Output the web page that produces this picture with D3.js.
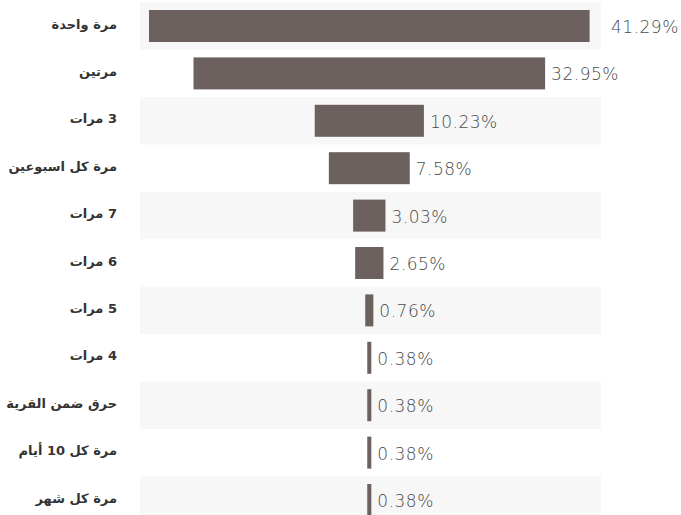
<!DOCTYPE html>
<html>
<head>
<meta charset="utf-8">
<script src="https://cdn.jsdelivr.net/npm/d3@7/dist/d3.min.js"></script>
<style>
  html, body { margin: 0; padding: 0; background: #fff; }
  svg { display: block; }
</style>
</head>
<body>
<svg id="chart" width="681" height="515"></svg>
<script>
// Frequency categories and their shares (%)
const categories = [
  "مرة واحدة",
  "مرتين",
  "3 مرات",
  "مرة كل اسبوعين",
  "7 مرات",
  "6 مرات",
  "5 مرات",
  "4 مرات",
  "حرق ضمن القرية",
  "مرة كل 10 أيام",
  "مرة كل شهر"
];
const values = [41.29, 32.95, 10.23, 7.58, 3.03, 2.65, 0.76, 0.38, 0.38, 0.38, 0.38];
const valueLabels = ["41.29%", "32.95%", "10.23%", "7.58%", "3.03%", "2.65%", "0.76%", "0.38%", "0.38%", "0.38%", "0.38%"];

const svg = d3.select("#chart");
const plotLeft = 140, plotRight = 601;
const plotTop = 2.3, rowStep = 47.4;
const centerX = 369.3;

const y = d3.scaleBand()
  .domain(categories)
  .range([plotTop, plotTop + rowStep * categories.length])
  .paddingInner(0)
  .paddingOuter(0);

// Bar width in px per percent, bars centred in the plot (funnel layout)
const w = d3.scaleLinear().domain([0, 43.2]).range([0, plotRight - plotLeft]);

const rows = svg.selectAll("g.row")
  .data(categories.map((c, i) => ({ c, v: values[i], lab: valueLabels[i], i })))
  .join("g")
  .attr("class", "row");

// Alternating row bands
rows.filter(d => d.i % 2 === 0)
  .append("rect")
  .attr("x", plotLeft)
  .attr("y", d => y(d.c))
  .attr("width", plotRight - plotLeft)
  .attr("height", y.bandwidth())
  .attr("fill", "#f7f7f7");

const barH = 32;
rows.append("rect")
  .attr("x", d => centerX - w(d.v) / 2)
  .attr("y", d => y(d.c) + (y.bandwidth() - barH) / 2)
  .attr("width", d => w(d.v))
  .attr("height", barH)
  .attr("fill", "#6c615e");

// Category labels, right-to-left, right edge aligned
rows.append("text")
  .attr("x", 117)
  .attr("y", d => y(d.c) + y.bandwidth() / 2 - 2)
  .attr("direction", "rtl")
  .attr("text-anchor", "start")
  .attr("dominant-baseline", "central")
  .style("font-family", "'DejaVu Sans', sans-serif")
  .style("font-weight", "bold")
  .style("font-size", "13px")
  .attr("fill", "#333")
  .text(d => d.c);

// Value labels to the right of each bar
rows.append("text")
  .attr("x", d => {
    const end = centerX + w(d.v) / 2;
    return end > plotRight - 20 ? plotRight + 10 : end + 6;
  })
  .attr("y", d => y(d.c) + y.bandwidth() / 2 + 1)
  .attr("dominant-baseline", "central")
  .style("font-family", "'DejaVu Sans', sans-serif")
  .style("font-weight", "200")
  .style("font-size", "17px")
  .style("letter-spacing", "0.5px")
  .attr("fill", "#4a4a4a")
  .text(d => d.lab);
</script>
</body>
</html>
